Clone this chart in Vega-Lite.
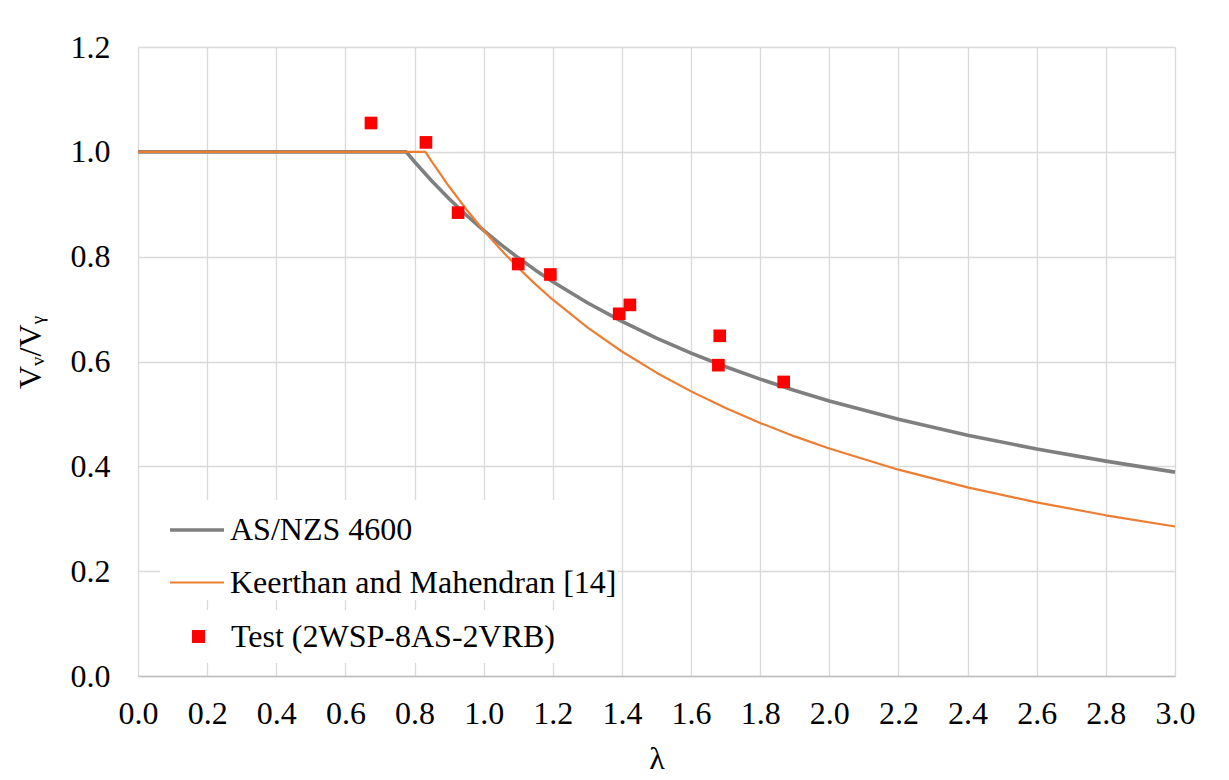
{
  "$schema": "https://vega.github.io/schema/vega-lite/v6.json",
  "autosize": "none",
  "width": 1037,
  "height": 629,
  "padding": {"left": 138, "top": 47, "right": 54, "bottom": 104},
  "background": "white",
  "config": {
    "view": {"stroke": null},
    "font": "Liberation Serif",
    "axis": {
      "labelFont": "Liberation Serif",
      "labelFontSize": 32,
      "labelColor": "#000000",
      "titleFont": "Liberation Serif",
      "titleFontSize": 32,
      "titleFontWeight": "normal",
      "titleColor": "#000000",
      "gridColor": "#d9d9d9",
      "gridWidth": 1.3,
      "gridOpacity": 1,
      "ticks": false,
      "labelFlush": false,
      "labelOverlap": false
    },
    "legend": {
      "labelFont": "Liberation Serif",
      "labelFontSize": 32,
      "labelColor": "#000000",
      "labelLimit": 1000
    }
  },
  "datasets": {
    "curves": [
      {"lambda": 0.0, "v": 1.0, "curve": "AS/NZS 4600"},
      {"lambda": 0.776, "v": 1.0, "curve": "AS/NZS 4600"},
      {"lambda": 0.8, "v": 0.9811, "curve": "AS/NZS 4600"},
      {"lambda": 0.85, "v": 0.9443, "curve": "AS/NZS 4600"},
      {"lambda": 0.9, "v": 0.9104, "curve": "AS/NZS 4600"},
      {"lambda": 0.95, "v": 0.8791, "curve": "AS/NZS 4600"},
      {"lambda": 1.0, "v": 0.85, "curve": "AS/NZS 4600"},
      {"lambda": 1.05, "v": 0.823, "curve": "AS/NZS 4600"},
      {"lambda": 1.1, "v": 0.7978, "curve": "AS/NZS 4600"},
      {"lambda": 1.15, "v": 0.7743, "curve": "AS/NZS 4600"},
      {"lambda": 1.2, "v": 0.7523, "curve": "AS/NZS 4600"},
      {"lambda": 1.3, "v": 0.7121, "curve": "AS/NZS 4600"},
      {"lambda": 1.4, "v": 0.6764, "curve": "AS/NZS 4600"},
      {"lambda": 1.5, "v": 0.6446, "curve": "AS/NZS 4600"},
      {"lambda": 1.6, "v": 0.6159, "curve": "AS/NZS 4600"},
      {"lambda": 1.7, "v": 0.5899, "curve": "AS/NZS 4600"},
      {"lambda": 1.8, "v": 0.5663, "curve": "AS/NZS 4600"},
      {"lambda": 1.9, "v": 0.5447, "curve": "AS/NZS 4600"},
      {"lambda": 2.0, "v": 0.5248, "curve": "AS/NZS 4600"},
      {"lambda": 2.2, "v": 0.4897, "curve": "AS/NZS 4600"},
      {"lambda": 2.4, "v": 0.4594, "curve": "AS/NZS 4600"},
      {"lambda": 2.6, "v": 0.4331, "curve": "AS/NZS 4600"},
      {"lambda": 2.8, "v": 0.4099, "curve": "AS/NZS 4600"},
      {"lambda": 3.0, "v": 0.389, "curve": "AS/NZS 4600"},
      {"lambda": 0.0, "v": 1.0, "curve": "Keerthan and Mahendran [14]"},
      {"lambda": 0.8315, "v": 1.0, "curve": "Keerthan and Mahendran [14]"},
      {"lambda": 0.85, "v": 0.9813, "curve": "Keerthan and Mahendran [14]"},
      {"lambda": 0.9, "v": 0.9338, "curve": "Keerthan and Mahendran [14]"},
      {"lambda": 0.95, "v": 0.8901, "curve": "Keerthan and Mahendran [14]"},
      {"lambda": 1.0, "v": 0.85, "curve": "Keerthan and Mahendran [14]"},
      {"lambda": 1.05, "v": 0.813, "curve": "Keerthan and Mahendran [14]"},
      {"lambda": 1.1, "v": 0.7789, "curve": "Keerthan and Mahendran [14]"},
      {"lambda": 1.15, "v": 0.7472, "curve": "Keerthan and Mahendran [14]"},
      {"lambda": 1.2, "v": 0.7179, "curve": "Keerthan and Mahendran [14]"},
      {"lambda": 1.3, "v": 0.6651, "curve": "Keerthan and Mahendran [14]"},
      {"lambda": 1.4, "v": 0.6191, "curve": "Keerthan and Mahendran [14]"},
      {"lambda": 1.5, "v": 0.5787, "curve": "Keerthan and Mahendran [14]"},
      {"lambda": 1.6, "v": 0.543, "curve": "Keerthan and Mahendran [14]"},
      {"lambda": 1.7, "v": 0.5111, "curve": "Keerthan and Mahendran [14]"},
      {"lambda": 1.8, "v": 0.4827, "curve": "Keerthan and Mahendran [14]"},
      {"lambda": 1.9, "v": 0.4571, "curve": "Keerthan and Mahendran [14]"},
      {"lambda": 2.0, "v": 0.4339, "curve": "Keerthan and Mahendran [14]"},
      {"lambda": 2.2, "v": 0.3936, "curve": "Keerthan and Mahendran [14]"},
      {"lambda": 2.4, "v": 0.3598, "curve": "Keerthan and Mahendran [14]"},
      {"lambda": 2.6, "v": 0.3313, "curve": "Keerthan and Mahendran [14]"},
      {"lambda": 2.8, "v": 0.3066, "curve": "Keerthan and Mahendran [14]"},
      {"lambda": 3.0, "v": 0.2852, "curve": "Keerthan and Mahendran [14]"}
    ],
    "tests": [
      {"lambda": 0.674, "v": 1.055, "test": "Test (2WSP-8AS-2VRB)"},
      {"lambda": 0.833, "v": 1.018, "test": "Test (2WSP-8AS-2VRB)"},
      {"lambda": 0.926, "v": 0.884, "test": "Test (2WSP-8AS-2VRB)"},
      {"lambda": 1.1, "v": 0.786, "test": "Test (2WSP-8AS-2VRB)"},
      {"lambda": 1.193, "v": 0.766, "test": "Test (2WSP-8AS-2VRB)"},
      {"lambda": 1.392, "v": 0.691, "test": "Test (2WSP-8AS-2VRB)"},
      {"lambda": 1.423, "v": 0.708, "test": "Test (2WSP-8AS-2VRB)"},
      {"lambda": 1.683, "v": 0.649, "test": "Test (2WSP-8AS-2VRB)"},
      {"lambda": 1.679, "v": 0.593, "test": "Test (2WSP-8AS-2VRB)"},
      {"lambda": 1.868, "v": 0.561, "test": "Test (2WSP-8AS-2VRB)"}
    ]
  },
  "layer": [
    {
      "data": {"name": "curves"},
      "mark": {"type": "line", "strokeCap": "butt", "strokeJoin": "round"},
      "encoding": {
        "x": {
          "field": "lambda", "type": "quantitative",
          "scale": {"domain": [0, 3], "nice": false, "zero": false},
          "axis": {
            "title": "λ",
            "values": [0, 0.2, 0.4, 0.6, 0.8, 1.0, 1.2, 1.4, 1.6, 1.8, 2.0, 2.2, 2.4, 2.6, 2.8, 3.0],
            "format": ".1f",
            "domain": true,
            "domainColor": "#bfbfbf",
            "domainWidth": 1.5,
            "labelPadding": 22,
            "titleY": 92,
            "titleBaseline": "alphabetic"
          }
        },
        "y": {
          "field": "v", "type": "quantitative",
          "scale": {"domain": [0, 1.2], "nice": false},
          "axis": {
            "title": "Vᵥ/Vᵧ",
            "values": [0, 0.2, 0.4, 0.6, 0.8, 1.0, 1.2],
            "format": ".1f",
            "domain": false,
            "labelPadding": 28,
            "titleAngle": -90,
            "titleX": -98,
            "titleY": 305,
            "titleAlign": "center",
            "titleBaseline": "alphabetic"
          }
        },
        "stroke": {
          "field": "curve", "type": "nominal",
          "scale": {"domain": ["AS/NZS 4600", "Keerthan and Mahendran [14]"], "range": ["#7f7f7f", "#ed7d31"]},
          "legend": {
            "title": null, "orient": "none", "legendX": 22, "legendY": 453,
            "fillColor": "white", "padding": 1, "rowPadding": 8,
            "symbolType": "stroke", "symbolSize": 2916, "symbolOffset": 7, "labelOffset": 4
          }
        },
        "strokeWidth": {
          "field": "curve", "type": "nominal",
          "scale": {"domain": ["AS/NZS 4600", "Keerthan and Mahendran [14]"], "range": [3.6, 2.2]},
          "legend": {
            "title": null, "orient": "none", "legendX": 22, "legendY": 453,
            "fillColor": "white", "padding": 1, "rowPadding": 8,
            "symbolType": "stroke", "symbolSize": 2916, "symbolOffset": 7, "labelOffset": 4
          }
        }
      }
    },
    {
      "data": {"name": "tests"},
      "mark": {"type": "point", "shape": "square", "filled": true, "size": 160, "opacity": 1, "strokeWidth": 0},
      "encoding": {
        "x": {"field": "lambda", "type": "quantitative"},
        "y": {"field": "v", "type": "quantitative"},
        "fill": {
          "field": "test", "type": "nominal",
          "scale": {"domain": ["Test (2WSP-8AS-2VRB)"], "range": ["#ff0000"]},
          "legend": {
            "title": null, "orient": "none", "legendX": 22, "legendY": 563,
            "fillColor": "white", "padding": 10.5, "rowPadding": 0,
            "symbolType": "square", "symbolSize": 169, "symbolOffset": 12, "labelOffset": 16.5,
            "symbolStrokeWidth": 0
          }
        }
      }
    }
  ]
}
